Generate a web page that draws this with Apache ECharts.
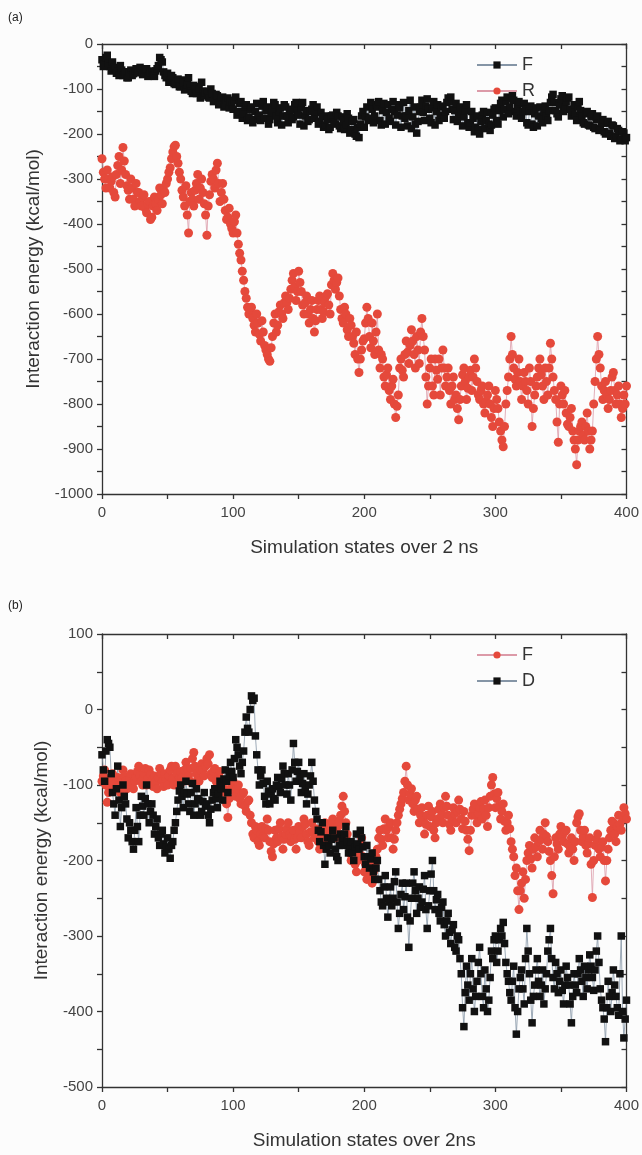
<!DOCTYPE html>
<html><head><meta charset="utf-8">
<script src="https://cdn.jsdelivr.net/npm/echarts@6/dist/echarts.min.js"></script>
<style>
html,body{margin:0;padding:0;background:#fcfcfc;}
#a{position:absolute;left:0;top:0;width:642px;height:590px;}
#b{position:absolute;left:0;top:590px;width:642px;height:565px;}
</style>
</head><body><div id="a"></div><div id="b"></div>
<script>
// One value per simulation state, 0..400
const STEP = 1;
// Panel (a) series F (black squares)
const panelA_F = [
-35,-50,-45,-30,-25,-42,-50,-60,-40,-52,-55,-65,-60,-70,-48,-58,-70,-62,-62,-75,
-75,-62,-58,-70,-66,-60,-55,-64,-62,-52,-58,-68,-65,-58,-55,-72,-68,-63,-60,-70,
-72,-60,-55,-48,-30,-35,-40,-62,-70,-75,-65,-85,-80,-70,-75,-88,-90,-82,-78,-95,
-95,-80,-85,-102,-100,-90,-75,-98,-105,-110,-92,-100,-110,-95,-100,-120,-85,-105,-115,-108,
-105,-118,-120,-100,-110,-128,-125,-112,-115,-135,-130,-120,-118,-140,-135,-125,-120,-142,-128,-135,
-145,-125,-118,-158,-150,-132,-128,-165,-155,-140,-135,-170,-162,-145,-140,-175,-168,-150,-132,-160,
-158,-170,-138,-128,-165,-148,-140,-178,-168,-152,-145,-130,-135,-160,-175,-150,-142,-180,-160,-135,
-140,-160,-175,-148,-145,-168,-162,-135,-130,-150,-158,-178,-142,-130,-182,-160,-148,-172,-168,-150,
-145,-135,-165,-150,-140,-178,-172,-152,-162,-185,-180,-160,-168,-190,-185,-160,-158,-175,-178,-152,
-160,-182,-188,-162,-170,-190,-180,-155,-165,-198,-190,-172,-168,-200,-205,-185,-208,-178,-160,-150,
-185,-162,-140,-170,-165,-130,-145,-175,-160,-135,-140,-128,-170,-180,-148,-132,-178,-152,-135,-165,
-172,-145,-128,-150,-180,-158,-135,-142,-185,-160,-130,-165,-160,-182,-148,-125,-188,-162,-140,-178,
-198,-172,-150,-140,-125,-152,-170,-138,-122,-145,-165,-175,-142,-128,-180,-150,-135,-170,-158,-140,
-138,-165,-150,-130,-120,-128,-118,-145,-168,-148,-132,-172,-160,-140,-155,-182,-162,-148,-135,-175,
-185,-175,-150,-165,-195,-185,-160,-190,-200,-172,-158,-150,-188,-170,-152,-178,-192,-180,-158,-145,
-142,-170,-178,-148,-132,-125,-162,-145,-128,-118,-155,-140,-122,-115,-125,-150,-160,-138,-128,-150,
-165,-150,-132,-145,-175,-180,-150,-138,-178,-185,-155,-142,-182,-160,-140,-165,-175,-150,-138,-160,
-170,-148,-130,-118,-112,-130,-148,-155,-162,-135,-122,-115,-150,-140,-128,-120,-118,-145,-160,-150,
-135,-158,-170,-140,-128,-148,-160,-175,-178,-155,-150,-180,-182,-162,-155,-185,-188,-168,-160,-192,
-190,-175,-168,-195,-200,-176,-172,-198,-205,-180,-182,-210,-205,-188,-192,-215,-212,-195,-198,-215,
-208];
// Panel (a) series R (red circles)
const panelA_R = [
-255,-285,-300,-320,-280,-300,-320,-305,-295,-330,-340,-290,-270,-250,-310,-280,-230,-260,-290,-315,
-325,-345,-300,-320,-345,-360,-310,-330,-330,-350,-360,-340,-335,-365,-375,-355,-350,-390,-385,-360,
-340,-355,-370,-345,-320,-335,-355,-325,-330,-310,-300,-285,-275,-255,-240,-228,-225,-250,-265,-285,
-300,-325,-340,-360,-315,-380,-420,-350,-330,-345,-360,-325,-310,-290,-345,-320,-300,-330,-355,-380,
-425,-360,-335,-305,-290,-300,-320,-280,-265,-310,-350,-330,-310,-345,-370,-390,-385,-365,-400,-410,
-420,-395,-380,-420,-445,-465,-480,-505,-525,-550,-565,-585,-600,-590,-585,-610,-625,-640,-600,-620,
-645,-660,-615,-640,-670,-680,-690,-700,-705,-675,-650,-620,-600,-640,-625,-595,-580,-600,-610,-575,
-560,-575,-590,-565,-545,-525,-510,-540,-570,-550,-505,-530,-550,-580,-600,-575,-560,-600,-620,-590,
-570,-610,-640,-615,-590,-570,-560,-590,-610,-595,-575,-560,-555,-580,-600,-535,-510,-525,-545,-530,
-520,-560,-590,-610,-620,-585,-600,-635,-650,-610,-625,-650,-665,-690,-640,-700,-730,-700,-680,-660,
-655,-620,-585,-610,-650,-675,-620,-660,-690,-640,-600,-680,-720,-690,-700,-740,-760,-735,-720,-770,
-790,-760,-745,-800,-830,-805,-780,-720,-700,-725,-740,-690,-660,-685,-710,-670,-635,-660,-690,-720,
-650,-680,-710,-640,-610,-650,-680,-740,-800,-760,-720,-700,-760,-780,-700,-725,-745,-700,-780,-720,
-680,-720,-760,-740,-720,-770,-800,-760,-740,-790,-780,-810,-835,-790,-760,-735,-720,-750,-790,-765,
-740,-725,-770,-740,-700,-720,-750,-780,-790,-770,-760,-800,-820,-795,-780,-760,-800,-830,-850,-810,
-770,-790,-810,-840,-860,-880,-895,-850,-800,-770,-740,-700,-650,-690,-720,-745,-760,-730,-700,-750,
-790,-760,-730,-750,-770,-800,-720,-750,-850,-810,-780,-760,-740,-720,-700,-735,-760,-790,-720,-750,
-780,-720,-665,-700,-740,-770,-790,-840,-885,-800,-760,-780,-800,-770,-820,-845,-850,-830,-810,-860,
-880,-900,-935,-880,-860,-850,-840,-870,-880,-850,-820,-860,-900,-880,-860,-800,-750,-700,-650,-690,
-720,-760,-790,-770,-750,-780,-810,-790,-770,-740,-730,-770,-800,-780,-760,-800,-830,-810,-780,-800,
-760];
// Panel (b) series F (red circles)
const panelB_F = [
-95,-88,-80,-100,-123,-110,-100,-90,-85,-98,-105,-95,-90,-102,-110,-92,-80,-88,-95,-105,
-100,-92,-85,-98,-105,-95,-90,-82,-75,-88,-95,-100,-85,-78,-100,-92,-80,-86,-95,-102,
-88,-96,-105,-90,-78,-85,-95,-102,-85,-92,-100,-88,-80,-75,-92,-100,-75,-85,-98,-90,
-82,-90,-95,-80,-70,-78,-88,-95,-78,-65,-57,-75,-85,-92,-95,-80,-72,-80,-88,-75,
-65,-72,-60,-85,-90,-82,-78,-95,-100,-88,-82,-98,-95,-105,-110,-125,-143,-118,-105,-98,
-95,-108,-115,-105,-100,-118,-125,-112,-110,-128,-135,-122,-120,-140,-150,-165,-170,-155,-160,-175,
-180,-165,-155,-168,-170,-158,-145,-160,-175,-188,-195,-178,-160,-170,-175,-158,-150,-168,-185,-172,
-165,-158,-150,-165,-175,-168,-160,-172,-185,-170,-155,-162,-170,-155,-145,-152,-165,-175,-180,-162,
-150,-162,-170,-158,-160,-175,-185,-172,-165,-155,-150,-162,-175,-168,-160,-150,-145,-158,-170,-162,
-155,-148,-140,-128,-115,-135,-150,-165,-175,-190,-200,-188,-180,-205,-215,-200,-190,-178,-170,-195,
-215,-205,-225,-212,-200,-220,-230,-215,-205,-195,-185,-170,-160,-172,-180,-158,-145,-160,-170,-155,
-150,-170,-185,-172,-160,-150,-140,-132,-125,-118,-110,-95,-75,-100,-120,-112,-105,-125,-135,-120,
-115,-132,-150,-140,-130,-148,-165,-152,-140,-128,-155,-142,-135,-160,-170,-150,-145,-132,-125,-140,
-150,-130,-115,-128,-140,-152,-160,-145,-130,-138,-150,-135,-120,-132,-145,-158,-135,-148,-160,-172,
-187,-160,-140,-132,-125,-140,-150,-138,-130,-122,-145,-132,-120,-140,-155,-130,-115,-100,-90,-112,
-130,-118,-110,-128,-145,-135,-125,-148,-160,-150,-140,-158,-175,-185,-195,-220,-210,-240,-265,-240,
-230,-215,-250,-225,-200,-190,-180,-198,-210,-185,-170,-182,-195,-175,-160,-172,-185,-165,-150,-168,
-175,-188,-200,-220,-244,-195,-170,-178,-185,-165,-155,-168,-175,-162,-160,-178,-190,-182,-170,-185,
-200,-175,-150,-142,-138,-160,-175,-168,-160,-180,-190,-178,-170,-205,-249,-200,-180,-172,-165,-185,
-195,-182,-175,-200,-227,-200,-185,-170,-160,-148,-150,-165,-175,-155,-140,-152,-160,-142,-130,-138,
-145];
// Panel (b) series D (black squares)
const panelB_D = [
-60,-80,-95,-55,-40,-45,-50,-85,-110,-125,-140,-105,-75,-120,-155,-130,-100,-115,-125,-145,
-170,-150,-160,-175,-185,-160,-130,-155,-175,-140,-115,-128,-140,-118,-100,-125,-150,-135,-125,-140,
-165,-155,-145,-170,-180,-165,-160,-178,-190,-182,-170,-185,-197,-180,-175,-160,-150,-135,-120,-108,
-100,-115,-130,-110,-95,-112,-125,-135,-110,-98,-140,-125,-105,-118,-120,-140,-135,-122,-110,-128,
-125,-140,-150,-132,-120,-110,-105,-118,-130,-112,-95,-105,-120,-92,-80,-95,-110,-88,-70,-82,
-90,-65,-40,-50,-60,-75,-85,-70,-55,-30,-10,-25,-30,0,18,12,15,-35,-60,-80,
-100,-88,-80,-98,-115,-125,-95,-108,-125,-112,-105,-118,-120,-100,-90,-102,-110,-92,-75,-85,
-100,-112,-85,-100,-120,-80,-45,-70,-95,-82,-70,-90,-110,-98,-85,-105,-125,-112,-100,-88,
-70,-95,-120,-135,-145,-160,-175,-162,-150,-180,-205,-185,-170,-180,-190,-172,-160,-170,-185,-195,
-200,-180,-165,-172,-180,-165,-155,-175,-190,-182,-175,-190,-200,-182,-165,-178,-185,-160,-170,-182,
-195,-205,-180,-195,-210,-198,-190,-215,-225,-210,-200,-225,-240,-255,-260,-235,-220,-250,-275,-255,
-235,-260,-250,-228,-215,-255,-290,-270,-245,-230,-265,-248,-230,-275,-315,-280,-250,-230,-215,-240,
-270,-250,-235,-262,-255,-238,-220,-265,-290,-260,-240,-218,-200,-240,-265,-252,-245,-270,-280,-262,
-255,-285,-300,-280,-270,-295,-310,-292,-285,-315,-320,-300,-305,-330,-350,-395,-420,-375,-340,-365,
-385,-350,-330,-370,-400,-380,-360,-335,-315,-350,-380,-395,-345,-370,-400,-385,-355,-320,-330,-305,
-300,-335,-320,-305,-290,-300,-282,-310,-335,-350,-360,-375,-385,-360,-340,-395,-430,-400,-370,-355,
-345,-370,-390,-330,-290,-320,-350,-385,-415,-380,-365,-345,-330,-360,-380,-365,-345,-390,-370,-350,
-320,-305,-290,-330,-355,-370,-335,-350,-375,-360,-345,-372,-390,-365,-340,-355,-365,-390,-415,-380,
-350,-365,-375,-350,-330,-345,-360,-380,-340,-355,-370,-345,-325,-340,-355,-372,-345,-320,-300,-335,
-370,-385,-395,-410,-440,-395,-360,-380,-400,-375,-345,-365,-380,-395,-405,-350,-300,-400,-435,-410,
-385];
const xTicks = {min:0, max:400, interval:50, labelEvery:100};
const yTicksA = {min:-1000, max:0, interval:50, labelEvery:100};
const yTicksB = {min:-500, max:100, interval:50, labelEvery:100};

const FONT = '"Liberation Sans", Arial, sans-serif';
const AX = '#333';
const RED = '#e5493b';
const BLK = '#111';
const RED_LINE = '#dc9aa8';
const BLK_LINE = '#8595a6';

function pairs(vals){ return vals.map((v,i)=>[i*STEP, v]); }

function xAxes(name){
  const base = {type:'value', min:xTicks.min, max:xTicks.max, interval:xTicks.interval,
    splitLine:{show:false},
    axisLine:{show:true, onZero:false, lineStyle:{color:AX, width:1.3}}};
  return [
    Object.assign({}, base, {position:'bottom', name:name, nameLocation:'middle', nameGap:44,
      nameTextStyle:{fontSize:19, color:'#333', fontFamily:FONT},
      axisTick:{show:true, inside:false, length:5, lineStyle:{color:AX, width:1.3}},
      axisLabel:{show:true, margin:11, fontSize:15, color:'#444', fontFamily:FONT,
        formatter:v=> (v % xTicks.labelEvery === 0 ? String(v) : '')}}),
    Object.assign({}, base, {position:'top',
      axisTick:{show:true, inside:true, length:5, lineStyle:{color:AX, width:1.3}},
      axisLabel:{show:false}})
  ];
}
function yAxes(t){
  const base = {type:'value', min:t.min, max:t.max, interval:t.interval,
    splitLine:{show:false},
    axisLine:{show:true, onZero:false, lineStyle:{color:AX, width:1.3}}};
  return [
    Object.assign({}, base, {position:'left', name:'Interaction energy (kcal/mol)', nameLocation:'middle', nameGap:51,
      nameTextStyle:{fontSize:19, color:'#333', fontFamily:FONT},
      axisTick:{show:true, inside:false, length:5, lineStyle:{color:AX, width:1.3}},
      axisLabel:{show:true, margin:9, fontSize:15, color:'#444', fontFamily:FONT,
        formatter:v=> (v % t.labelEvery === 0 ? String(v) : '')}}),
    Object.assign({}, base, {position:'right',
      axisTick:{show:true, inside:true, length:5, lineStyle:{color:AX, width:1.3}},
      axisLabel:{show:false}})
  ];
}
function ser(name, vals, kind){
  const isRed = kind === 'red';
  return {type:'line', name:name, data:pairs(vals), xAxisIndex:0, yAxisIndex:0,
    symbol: isRed ? 'circle' : 'rect', symbolSize: isRed ? 9 : 7.5,
    showSymbol:true, showAllSymbol:true, silent:true,
    lineStyle:{color: isRed ? RED_LINE : BLK_LINE, width:0.8},
    itemStyle:{color: isRed ? RED : BLK},
    emphasis:{disabled:true}, animation:false};
}
function legend(names){
  return {orient:'vertical', left:471, top:51, itemWidth:40, itemHeight:9, itemGap:8,
    data:names, textStyle:{fontSize:18, color:'#333', fontFamily:FONT, lineHeight:18},
    selectedMode:false};
}

const chartA = echarts.init(document.getElementById('a'), null, {renderer:'canvas'});
chartA.setOption({
  backgroundColor:'#fcfcfc', animation:false,
  grid:{left:102, top:44, width:525, height:450},
  graphic:[{type:'text', left:8, top:12, style:{text:'(a)', fontSize:12, fill:'#222', fontFamily:FONT}}],
  legend: legend(['F','R']),
  xAxis: xAxes('Simulation states over 2 ns'),
  yAxis: yAxes(yTicksA),
  series:[ser('F', panelA_F, 'black'), ser('R', panelA_R, 'red')]
});

const chartB = echarts.init(document.getElementById('b'), null, {renderer:'canvas'});
chartB.setOption({
  backgroundColor:'#fcfcfc', animation:false,
  grid:{left:102, top:44, width:525, height:454},
  graphic:[{type:'text', left:8, top:10, style:{text:'(b)', fontSize:12, fill:'#222', fontFamily:FONT}}],
  legend: legend(['F','D']),
  xAxis: xAxes('Simulation states over 2ns'),
  yAxis: yAxes(yTicksB),
  series:[ser('F', panelB_F, 'red'), ser('D', panelB_D, 'black')]
});
</script>
</body></html>
